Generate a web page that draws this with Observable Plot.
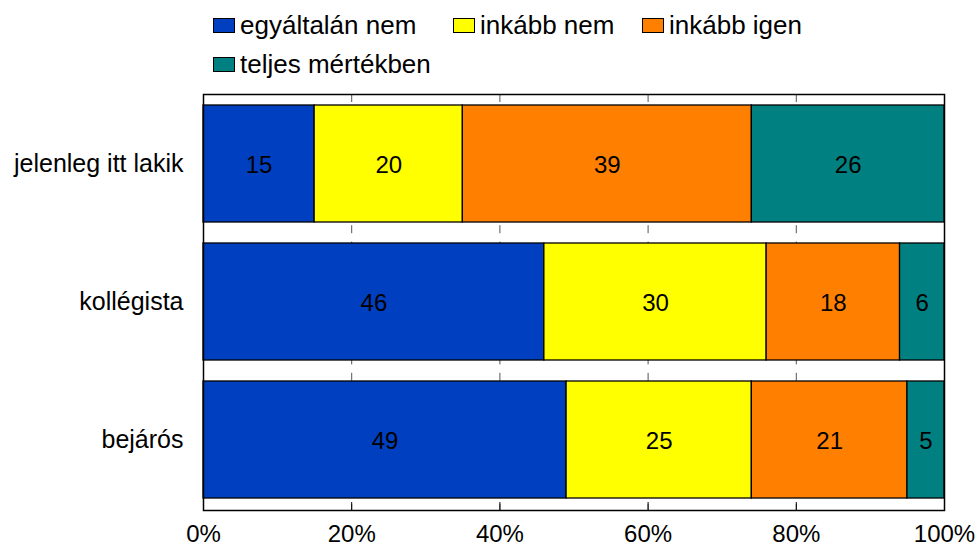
<!DOCTYPE html>
<html>
<head>
<meta charset="utf-8">
<script src="https://cdn.jsdelivr.net/npm/d3@7"></script>
<script src="https://cdn.jsdelivr.net/npm/@observablehq/plot@0.6"></script>
<style>
  html, body { margin: 0; padding: 0; background: #fff; }
  body { width: 978px; height: 548px; overflow: hidden; font-family: "Liberation Sans", Arial, sans-serif; }
  #legend { height: 80px; box-sizing: border-box; padding-top: 6px; padding-left: 213px;
            display: grid; grid-template-columns: 240px 189px auto; grid-auto-rows: 39px; }
  .item { display: flex; align-items: center; font-size: 26px; color: #000; white-space: nowrap; }
  .sw { width: 20px; height: 13px; border: 1px solid #000; margin-right: 5px; flex: none; }
  #chart svg { display: block; }
</style>
</head>
<body>
<div id="legend"></div>
<div id="chart"></div>
<script>
const groups = ["jelenleg itt lakik", "kollégista", "bejárós"];
const answers = ["egyáltalán nem", "inkább nem", "inkább igen", "teljes mértékben"];
const colors = ["#0040C0", "#FFFF00", "#FF8000", "#008080"];
const valJelenleg = [15, 20, 39, 26];
const valKollegista = [46, 30, 18, 6];
const valBejaros = [49, 25, 21, 5];
const xTicks = [0, 0.2, 0.4, 0.6, 0.8, 1];

const seriesByGroup = [valJelenleg, valKollegista, valBejaros];
const data = [];
groups.forEach((g, gi) => {
  answers.forEach((a, ai) => {
    data.push({group: g, answer: a, value: seriesByGroup[gi][ai]});
  });
});

// legend
const legend = document.getElementById("legend");
answers.forEach((a, i) => {
  const it = document.createElement("div");
  it.className = "item";
  const sw = document.createElement("span");
  sw.className = "sw";
  sw.style.background = colors[i];
  it.appendChild(sw);
  it.appendChild(document.createTextNode(a));
  legend.appendChild(it);
});

const H = 468, mTop = 14, mBottom = 38;
const plotH = H - mTop - mBottom;

const chart = Plot.plot({
  width: 978,
  height: H,
  marginLeft: 203,
  marginRight: 34,
  marginTop: mTop,
  marginBottom: mBottom,
  style: {fontFamily: "'Liberation Sans', Arial, sans-serif", fontSize: "24px", color: "#000", background: "#fff"},
  x: {domain: [0, 1], ticks: xTicks, tickFormat: d3.format(".0%"), label: null},
  y: {domain: groups, paddingInner: 0.15, paddingOuter: 0.075, label: null},
  color: {domain: answers, range: colors},
  marks: [
    Plot.ruleX([0.2, 0.4, 0.6, 0.8], {stroke: "#555", strokeWidth: 1, strokeDasharray: "8,8.4"}),
    Plot.barX(data, Plot.stackX({x: d => d.value / 100, y: "group", fill: "answer", stroke: "#000", strokeWidth: 1.3})),
    Plot.text(data, Plot.stackX({x: d => d.value / 100, y: "group", z: "answer", text: d => String(d.value), fill: "#000", fontSize: 24, dy: 1})),
    Plot.ruleX([0.2, 0.4, 0.6, 0.8], {stroke: "#000", strokeWidth: 1, insetTop: plotH - 8}),
    Plot.frame({stroke: "#000", strokeWidth: 1.5}),
    Plot.axisX({ticks: xTicks, tickFormat: d3.format(".0%"), tickSize: 0, tickPadding: 14, fontSize: 24, label: null}),
    Plot.axisY({tickSize: 0, tickPadding: 20, fontSize: 25, label: null})
  ]
});
document.getElementById("chart").appendChild(chart);
</script>
</body>
</html>
